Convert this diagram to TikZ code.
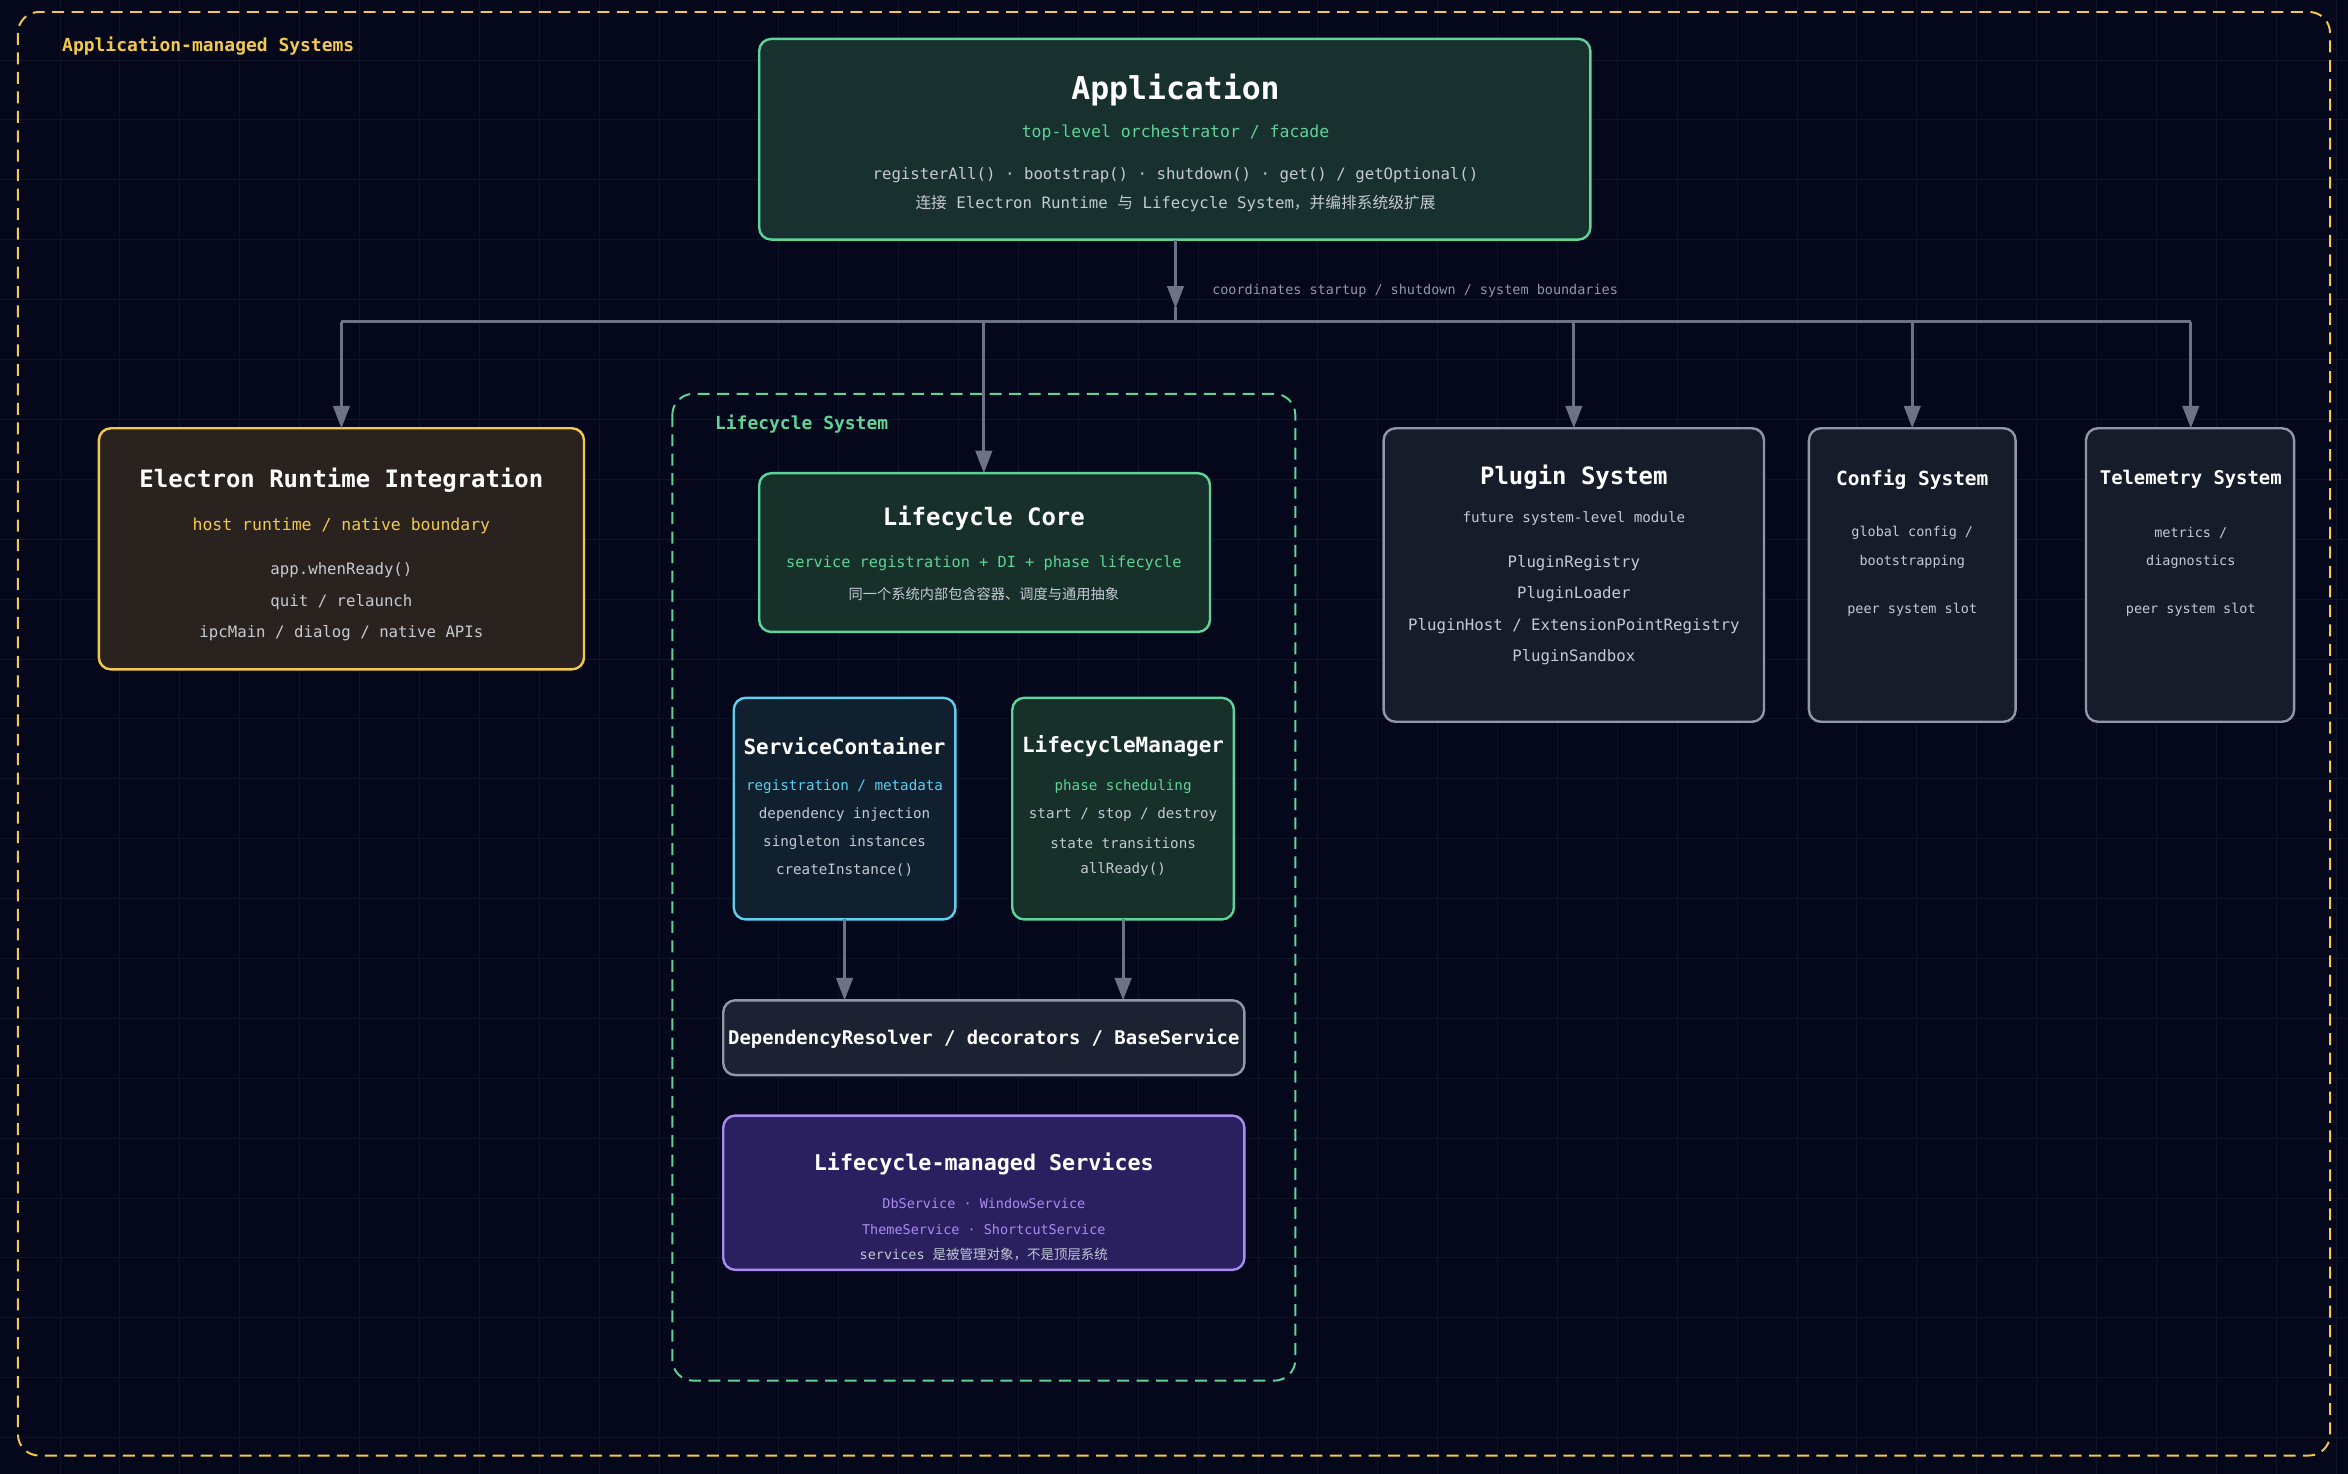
\documentclass[tikz,border=0pt]{standalone}
\usepackage{fontspec}
\setmonofont{DejaVu Sans Mono}
\newfontfamily\cjk{Noto Sans CJK SC}
\usetikzlibrary{arrows.meta}
\definecolor{bg}{HTML}{05081A}
\definecolor{gridc}{HTML}{0E1426}
\definecolor{ylw}{HTML}{F2C94C}
\definecolor{grn}{HTML}{5FD39A}
\definecolor{cyn}{HTML}{5FCFEF}
\definecolor{prp}{HTML}{A98CF2}
\definecolor{gry}{HTML}{8F98A8}
\definecolor{txt}{HTML}{C4CAD4}
\definecolor{conn}{HTML}{6B7385}
\definecolor{fApp}{HTML}{18302E}
\definecolor{fEl}{HTML}{2A221F}
\definecolor{fLc}{HTML}{17302A}
\definecolor{fSc}{HTML}{10202F}
\definecolor{fDr}{HTML}{1C2231}
\definecolor{fSv}{HTML}{2A1F5F}
\definecolor{fPl}{HTML}{161C2A}
\begin{document}
\begin{tikzpicture}[x=1pt,y=-1pt,font=\ttfamily,
  box/.style={draw,line width=1.6pt,rounded corners=8pt},
  ttl/.style={text=white,font=\ttfamily\bfseries\fontsize{16}{18}\selectfont},
  sub/.style={font=\ttfamily\fontsize{11}{13}\selectfont},
  ln/.style={text=txt,font=\ttfamily\fontsize{10.5}{12}\selectfont},
  sm/.style={text=txt,font=\ttfamily\fontsize{9.5}{11}\selectfont},
  arr/.style={draw=conn,line width=2pt,-{Triangle[width=11pt,length=15pt]}}]
\fill[bg] (0,0) rectangle (1568,984);
\useasboundingbox (0,0) rectangle (1568,984);
\foreach \x in {40,80,...,1560} \draw[gridc,line width=0.5pt] (\x,0)--(\x,984);
\foreach \y in {40,80,...,980} \draw[gridc,line width=0.5pt] (0,\y)--(1568,\y);
\draw[ylw,dashed,line width=1.3pt,dash pattern=on 8pt off 5pt,rounded corners=14pt] (12,8) rectangle (1556,972);
\node[anchor=west,text=ylw,font=\ttfamily\bfseries\fontsize{12}{14}\selectfont] (lbl) at (38,31) {Application-managed Systems};
% Application
\draw[box,draw=grn,fill=fApp] (507,26) rectangle (1062,160);
\node[text=white,font=\ttfamily\bfseries\fontsize{21}{24}\selectfont] (app) at (785,60) {Application};
\node[sub,text=grn] (appS) at (785,89) {top-level orchestrator / facade};
\node[ln] (appA) at (785,117) {registerAll() · bootstrap() · shutdown() · get() / getOptional()};
\node[ln] (appB) at (785,136) {{\cjk 连接} Electron Runtime {\cjk 与} Lifecycle System{\cjk ，并编排系统级扩展}};
\coordinate (appBot) at (785,160);
\coordinate (bus) at (785,206);
\draw[arr] (appBot) -- (bus);
\node[anchor=west,text=gry,font=\ttfamily\fontsize{9}{11}\selectfont] (busL) at (806,194) {coordinates startup / shutdown / system boundaries};
\draw[conn,line width=2pt] (228,215) -- (1463,215);
\draw[conn,line width=2pt] (785,205) -- (785,215);
\coordinate (b1) at (228,215); \coordinate (b2) at (657,215); \coordinate (b3) at (1051,215);
\coordinate (b4) at (1277,215); \coordinate (b5) at (1463,215);
% Electron
\draw[box,draw=ylw,fill=fEl] (66,286) rectangle (390,447);
\coordinate (elT) at (228,286);
\node[ttl] (el) at (228,321) {Electron Runtime Integration};
\node[sub,text=ylw] (elS) at (228,351) {host runtime / native boundary};
\node[ln] (el1) at (228,381) {app.whenReady()};
\node[ln] (el2) at (228,402) {quit / relaunch};
\node[ln] (el3) at (228,423) {ipcMain / dialog / native APIs};
\draw[arr] (b1) -- (elT);
% Lifecycle system
\draw[grn,dashed,line width=1.3pt,dash pattern=on 8pt off 5pt,rounded corners=14pt] (449,263) rectangle (865,922);
\node[anchor=west,text=grn,font=\ttfamily\bfseries\fontsize{12}{14}\selectfont] (lsL) at (474,283) {Lifecycle System};
\draw[box,draw=grn,fill=fLc] (507,316) rectangle (808,422);
\coordinate (lcT) at (657,316);
\node[ttl] (lc) at (657,346) {Lifecycle Core};
\node[sub,text=grn,font=\ttfamily\fontsize{10.2}{12}\selectfont] (lcS) at (657,376) {service registration + DI + phase lifecycle};
\node[sm] (lc1) at (657,397) {\cjk 同一个系统内部包含容器、调度与通用抽象};
\draw[arr] (b2) -- (lcT);
% ServiceContainer
\draw[box,draw=cyn,fill=fSc] (490,466) rectangle (638,614);
\node[ttl,font=\ttfamily\bfseries\fontsize{14}{16}\selectfont] (sc) at (564,498) {ServiceContainer};
\node[sm,text=cyn] (sc0) at (564,525) {registration / metadata};
\node[sm] (sc1) at (564,544) {dependency injection};
\node[sm] (sc2) at (564,563) {singleton instances};
\node[sm] (sc3) at (564,581) {createInstance()};
% LifecycleManager
\draw[box,draw=grn,fill=fLc] (676,466) rectangle (824,614);
\node[ttl,font=\ttfamily\bfseries\fontsize{14}{16}\selectfont] (lm) at (750,498) {LifecycleManager};
\node[sm,text=grn] (lm0) at (750,525) {phase scheduling};
\node[sm] (lm1) at (750,544) {start / stop / destroy};
\node[sm] (lm2) at (750,563) {state transitions};
\node[sm] (lm3) at (750,581) {allReady()};
\coordinate (scB) at (564,614); \coordinate (lmB) at (750,614);
\coordinate (drA) at (564,668); \coordinate (drB) at (750,668);
\draw[arr] (scB) -- (drA);
\draw[arr] (lmB) -- (drB);
% DependencyResolver
\draw[box,draw=gry,fill=fDr] (483,668) rectangle (831,718);
\node[ttl,font=\ttfamily\bfseries\fontsize{12.6}{15}\selectfont] (dr) at (657,694) {DependencyResolver / decorators / BaseService};
% Services
\draw[box,draw=prp,fill=fSv] (483,745) rectangle (831,848);
\node[ttl,font=\ttfamily\bfseries\fontsize{14.5}{16}\selectfont] (sv) at (657,777) {Lifecycle-managed Services};
\node[sm,text=prp,font=\ttfamily\fontsize{9}{11}\selectfont] (sv1) at (657,804) {DbService · WindowService};
\node[sm,text=prp,font=\ttfamily\fontsize{9}{11}\selectfont] (sv2) at (657,821) {ThemeService · ShortcutService};
\node[sm,font=\ttfamily\fontsize{9}{11}\selectfont] (sv3) at (657,838) {services {\cjk 是被管理对象，不是顶层系统}};
% Plugin
\draw[box,draw=gry,fill=fPl] (924,286) rectangle (1178,482);
\node[ttl] (pl) at (1051,319) {Plugin System};
\node[sm] (pl0) at (1051,346) {future system-level module};
\node[ln] (pl1) at (1051,376) {PluginRegistry};
\node[ln] (pl2) at (1051,397) {PluginLoader};
\node[ln] (pl3) at (1051,418) {PluginHost / ExtensionPointRegistry};
\node[ln] (pl4) at (1051,439) {PluginSandbox};
\coordinate (plT) at (1051,286);
\draw[arr] (b3) -- (plT);
% Config
\draw[box,draw=gry,fill=fPl] (1208,286) rectangle (1346,482);
\node[ttl,font=\ttfamily\bfseries\fontsize{13}{15}\selectfont] (cf) at (1277,320) {Config System};
\node[sm,font=\ttfamily\fontsize{9}{11}\selectfont] (cf1) at (1277,356) {global config /};
\node[sm,font=\ttfamily\fontsize{9}{11}\selectfont] (cf2) at (1277,375) {bootstrapping};
\node[sm,font=\ttfamily\fontsize{9}{11}\selectfont] (cf3) at (1277,407) {peer system slot};
\coordinate (cfT) at (1277,286);
\draw[arr] (b4) -- (cfT);
% Telemetry
\draw[box,draw=gry,fill=fPl] (1393,286) rectangle (1532,482);
\node[ttl,font=\ttfamily\bfseries\fontsize{12.6}{15}\selectfont] (tm) at (1463,320) {Telemetry System};
\node[sm,font=\ttfamily\fontsize{9}{11}\selectfont] (tm1) at (1463,356) {metrics /};
\node[sm,font=\ttfamily\fontsize{9}{11}\selectfont] (tm2) at (1463,375) {diagnostics};
\node[sm,font=\ttfamily\fontsize{9}{11}\selectfont] (tm3) at (1463,407) {peer system slot};
\coordinate (tmT) at (1463,286);
\draw[arr] (b5) -- (tmT);
\end{tikzpicture}
\end{document}
